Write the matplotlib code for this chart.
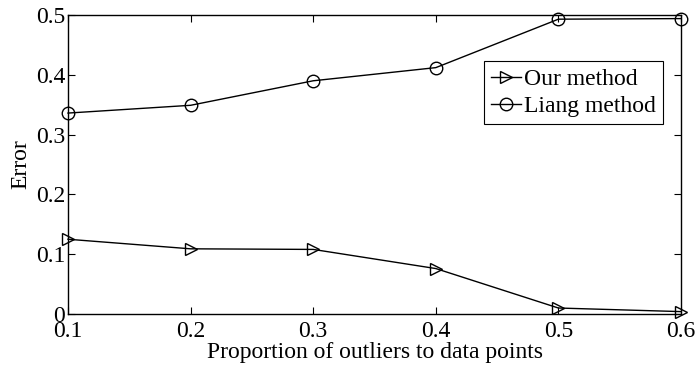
import matplotlib
matplotlib.use("Agg")
import matplotlib.pyplot as plt

proportion = [0.1, 0.2, 0.3, 0.4, 0.5, 0.6]
our_method = [0.125, 0.109, 0.108, 0.076, 0.010, 0.004]
liang_method = [0.336, 0.349, 0.390, 0.412, 0.493, 0.494]

xticks = [0.1, 0.2, 0.3, 0.4, 0.5, 0.6]
yticks = [0, 0.1, 0.2, 0.3, 0.4, 0.5]

plt.rcParams.update({
    "font.family": ["Liberation Serif", "DejaVu Serif"],
    "font.size": 17,
    "xtick.direction": "in",
    "ytick.direction": "in",
    "xtick.top": True,
    "ytick.right": True,
    "axes.linewidth": 1.0,
})

fig = plt.figure(figsize=(6.96, 3.65), dpi=100)
ax = fig.add_axes([68 / 696, 1 - 314 / 365, (681 - 68) / 696, (314 - 15) / 365])

ax.plot(proportion, our_method, color="black", lw=1.0, marker=">",
        ms=9, mfc="none", mec="black", mew=1.0, label="Our method", clip_on=False)
ax.plot(proportion, liang_method, color="black", lw=1.0, marker="o",
        ms=9, mfc="none", mec="black", mew=1.0, label="Liang method", clip_on=False)

ax.set_xlim(0.1, 0.6)
ax.set_ylim(0, 0.5)
ax.set_xticks(xticks)
ax.set_xticklabels([f"{v:g}" for v in xticks])
ax.set_yticks(yticks)
ax.set_yticklabels([f"{v:g}" for v in yticks])
ax.tick_params(length=5, width=0.8, pad=2)
ax.tick_params(axis="x", pad=5)

ax.set_xlabel("Proportion of outliers to data points", labelpad=0)
ax.set_ylabel("Error", labelpad=3)

leg = ax.legend(loc="upper right", bbox_to_anchor=(0.97, 0.845), fancybox=False,
                edgecolor="black", framealpha=1, handlelength=1.3,
                handletextpad=0.1, borderpad=0.3, labelspacing=0.25, borderaxespad=0)
leg.get_frame().set_linewidth(0.8)

fig.savefig("out.png", dpi=100)
